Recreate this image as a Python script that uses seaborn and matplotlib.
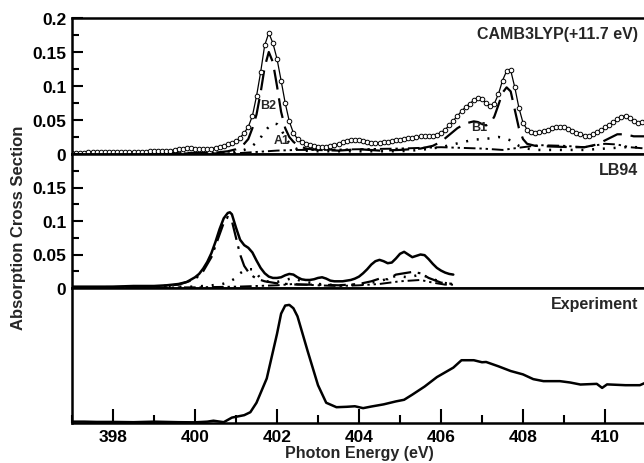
import numpy as np
import pandas as pd
import matplotlib
matplotlib.use("Agg")
import matplotlib.pyplot as plt
import seaborn as sns
from matplotlib.ticker import MultipleLocator, FixedLocator

# ---------------- data ----------------
# CAMB3LYP total (0.1 eV grid 397.0 ... 411.0)
camb_energy = [round(397.0 + 0.1 * i, 1) for i in range(141)]
camb_total = [
    0.002, 0.002, 0.002, 0.002, 0.003, 0.003, 0.003, 0.003, 0.003, 0.003,   # 397
    0.003, 0.003, 0.003, 0.003, 0.003, 0.003, 0.003, 0.003, 0.003, 0.004,   # 398
    0.004, 0.004, 0.004, 0.005, 0.005, 0.006, 0.007, 0.008, 0.009, 0.009,   # 399
    0.008, 0.007, 0.007, 0.007, 0.008, 0.009, 0.010, 0.012, 0.014, 0.016,   # 400
    0.019, 0.024, 0.031, 0.040, 0.056, 0.085, 0.120, 0.160, 0.178, 0.163,   # 401
    0.140, 0.108, 0.075, 0.048, 0.031, 0.022, 0.018, 0.015, 0.013, 0.012,   # 402
    0.011, 0.011, 0.011, 0.012, 0.013, 0.015, 0.017, 0.019, 0.020, 0.021,   # 403
    0.021, 0.019, 0.017, 0.016, 0.016, 0.016, 0.017, 0.018, 0.019, 0.020,   # 404
    0.021, 0.022, 0.023, 0.024, 0.025, 0.026, 0.026, 0.026, 0.027, 0.028,   # 405
    0.031, 0.036, 0.042, 0.049, 0.056, 0.063, 0.069, 0.074, 0.079, 0.083,   # 406
    0.081, 0.075, 0.071, 0.074, 0.088, 0.108, 0.122, 0.123, 0.098, 0.068,   # 407
    0.046, 0.036, 0.032, 0.031, 0.032, 0.034, 0.036, 0.038, 0.039, 0.040,   # 408
    0.039, 0.037, 0.034, 0.031, 0.029, 0.027, 0.027, 0.029, 0.032, 0.035,   # 409
    0.039, 0.043, 0.047, 0.051, 0.055, 0.056, 0.053, 0.048, 0.046, 0.047,   # 410
    0.049,                                                                   # 411
]

# CAMB3LYP components
b2_energy = [397.0, 399.0, 400.5, 400.8, 401.0, 401.1, 401.2, 401.3, 401.4, 401.5, 401.6,
             401.7, 401.8, 401.9, 402.0, 402.1, 402.2, 402.3, 402.4, 402.5, 402.7, 403.0,
             403.5, 404.0, 404.5, 405.0, 405.5, 405.8, 406.0, 406.2, 406.4, 406.6, 406.8,
             406.9, 407.0, 407.1, 407.2, 407.3, 407.4, 407.5, 407.6, 407.7, 407.8, 407.9,
             408.0, 408.1, 408.3, 408.7, 409.2, 409.5, 409.8, 410.0, 410.2, 410.3, 410.5,
             410.7, 411.0]
b2_values = [0.001, 0.001, 0.002, 0.004, 0.007, 0.010, 0.015, 0.022, 0.038, 0.058, 0.090,
             0.128, 0.150, 0.135, 0.100, 0.062, 0.038, 0.025, 0.018, 0.013, 0.008, 0.006,
             0.005, 0.007, 0.005, 0.006, 0.008, 0.012, 0.018, 0.028, 0.038, 0.045, 0.048,
             0.047, 0.044, 0.042, 0.045, 0.055, 0.072, 0.090, 0.098, 0.092, 0.065, 0.038,
             0.022, 0.015, 0.012, 0.011, 0.010, 0.010, 0.014, 0.020, 0.026, 0.029, 0.029,
             0.026, 0.026]

a1_energy = [397.0, 400.0, 400.8, 401.0, 401.2, 401.4, 401.5, 401.6, 401.7, 401.8, 401.9,
             402.0, 402.1, 402.2, 402.3, 402.4, 402.5, 402.6, 403.0, 404.0, 405.0, 405.5,
             406.0, 406.5, 406.8, 407.0, 407.2, 407.4, 407.5, 407.7, 407.9, 408.1, 408.3,
             409.0, 409.5, 410.0, 410.5, 411.0]
a1_values = [0.001, 0.001, 0.002, 0.003, 0.006, 0.012, 0.017, 0.024, 0.033, 0.040, 0.045,
             0.044, 0.036, 0.025, 0.016, 0.010, 0.007, 0.005, 0.004, 0.004, 0.004, 0.006,
             0.010, 0.017, 0.021, 0.022, 0.023, 0.025, 0.024, 0.020, 0.012, 0.008, 0.006,
             0.006, 0.006, 0.008, 0.010, 0.010]

other_energy = [397.0, 401.0, 401.5, 402.0, 402.5, 403.0, 404.0, 405.0, 405.5, 406.0,
                406.5, 407.0, 407.5, 408.0, 408.4, 409.0, 409.5, 410.0, 410.3, 410.6, 411.0]
other_values = [0.001, 0.001, 0.003, 0.005, 0.006, 0.006, 0.007, 0.008, 0.009, 0.010,
                0.009, 0.008, 0.006, 0.010, 0.013, 0.012, 0.010, 0.015, 0.014, 0.010, 0.008]

# LB94
lb_energy = [397.0, 397.5, 398.0, 398.5, 399.0, 399.3, 399.6, 399.8, 400.0, 400.1, 400.2,
             400.3, 400.4, 400.5, 400.6, 400.7, 400.8, 400.85, 400.9, 401.0, 401.1, 401.2,
             401.3, 401.4, 401.5, 401.6, 401.7, 401.8, 401.9, 402.0, 402.1, 402.2, 402.3,
             402.4, 402.5, 402.6, 402.7, 402.8, 402.9, 403.0, 403.1, 403.2, 403.3, 403.4,
             403.5, 403.6, 403.7, 403.8, 403.9, 404.0, 404.1, 404.2, 404.3, 404.4, 404.5,
             404.6, 404.7, 404.8, 404.9, 405.0, 405.1, 405.2, 405.3, 405.4, 405.5, 405.6,
             405.7, 405.8, 405.9, 406.0, 406.1, 406.2, 406.3]
lb_total = [0.002, 0.002, 0.002, 0.003, 0.003, 0.004, 0.006, 0.009, 0.016, 0.021, 0.029,
            0.039, 0.052, 0.069, 0.088, 0.104, 0.112, 0.113, 0.110, 0.090, 0.072, 0.064,
            0.060, 0.053, 0.041, 0.030, 0.022, 0.017, 0.015, 0.015, 0.016, 0.019, 0.021,
            0.020, 0.016, 0.013, 0.012, 0.012, 0.013, 0.015, 0.016, 0.014, 0.011, 0.010,
            0.010, 0.010, 0.011, 0.012, 0.014, 0.017, 0.022, 0.028, 0.035, 0.040, 0.042,
            0.040, 0.037, 0.038, 0.044, 0.051, 0.054, 0.050, 0.046, 0.048, 0.050, 0.049,
            0.043, 0.036, 0.030, 0.026, 0.023, 0.021, 0.020]

lb_main_energy = [397.0, 399.0, 399.6, 400.0, 400.2, 400.4, 400.6, 400.7, 400.8, 400.9, 401.0,
                  401.1, 401.2, 401.3, 401.4, 401.5, 401.7, 402.0, 402.5, 403.0, 403.5, 404.0,
                  404.3, 404.5, 404.7, 404.9, 405.1, 405.3, 405.5, 405.7, 406.0, 406.3]
lb_main_values = [0.001, 0.002, 0.005, 0.013, 0.025, 0.046, 0.080, 0.097, 0.106, 0.100, 0.075,
                  0.050, 0.033, 0.024, 0.018, 0.014, 0.010, 0.007, 0.005, 0.005, 0.004, 0.006,
                  0.010, 0.014, 0.013, 0.020, 0.022, 0.024, 0.022, 0.015, 0.008, 0.006]

lb_dot_energy = [397.0, 400.0, 400.6, 400.8, 401.0, 401.1, 401.2, 401.3, 401.4, 401.5, 401.6,
                 401.8, 402.0, 402.2, 402.4, 402.6, 403.0, 403.5, 404.0, 404.5, 404.9, 405.2,
                 405.5, 405.8, 406.0, 406.3]
lb_dot_values = [0.0005, 0.002, 0.005, 0.008, 0.015, 0.022, 0.026, 0.028, 0.028, 0.022, 0.014,
                 0.009, 0.009, 0.012, 0.015, 0.010, 0.006, 0.004, 0.005, 0.010, 0.018, 0.016,
                 0.020, 0.014, 0.008, 0.006]

lb_other_energy = [397.0, 400.0, 401.0, 402.0, 402.4, 403.0, 403.5, 404.0, 404.5, 405.0,
                   405.5, 405.8, 406.1, 406.3]
lb_other_values = [0.0005, 0.001, 0.002, 0.004, 0.006, 0.004, 0.003, 0.004, 0.006, 0.010,
                   0.012, 0.008, 0.005, 0.005]

# Experiment (arbitrary units)
exp_energy = [397.0, 397.3, 397.6, 398.0, 398.5, 399.0, 399.3, 399.6, 400.0, 400.3, 400.45,
              400.7, 400.9, 401.2, 401.35, 401.5, 401.75, 402.0, 402.1, 402.2, 402.3, 402.4,
              402.5, 402.75, 403.0, 403.2, 403.45, 403.7, 403.9, 404.1, 404.3, 404.6, 404.9,
              405.1, 405.3, 405.6, 405.9, 406.3, 406.5, 406.8, 407.0, 407.1, 407.4, 407.7,
              408.0, 408.25, 408.5, 408.9, 409.15, 409.4, 409.8, 409.93, 410.05, 410.5,
              410.85, 411.0]
exp_values = [0.010, 0.010, 0.008, 0.008, 0.006, 0.010, 0.008, 0.006, 0.005, 0.010, 0.017,
              0.006, 0.040, 0.058, 0.080, 0.150, 0.330, 0.660, 0.810, 0.870, 0.875, 0.850,
              0.790, 0.530, 0.280, 0.150, 0.117, 0.120, 0.124, 0.110, 0.122, 0.138, 0.160,
              0.172, 0.210, 0.270, 0.340, 0.410, 0.465, 0.465, 0.450, 0.452, 0.420, 0.385,
              0.360, 0.325, 0.310, 0.310, 0.300, 0.285, 0.290, 0.260, 0.286, 0.280,
              0.280, 0.300]

panel_titles = ["CAMB3LYP(+11.7 eV)", "LB94", "Experiment"]
peak_labels = ["B2", "A1", "B1"]
peak_label_pos = [(401.78, 0.072), (402.12, 0.021), (406.93, 0.040)]
y_ticks_top = [0, 0.05, 0.1, 0.15, 0.2]
y_ticks_mid = [0, 0.05, 0.1, 0.15]
x_ticks = [398, 400, 402, 404, 406, 408, 410]

# ---------------- style ----------------
sns.set_style("ticks")
plt.rcParams["font.family"] = ["Liberation Sans", "DejaVu Sans"]
plt.rcParams["font.weight"] = "bold"
plt.rcParams["axes.labelweight"] = "bold"

W, H = 644, 464
fig = plt.figure(figsize=(W / 100, H / 100), dpi=100)

left_px, right_px = 72, 646
def ax_at(top_px, bot_px):
    return fig.add_axes([left_px / W, 1 - bot_px / H, (right_px - left_px) / W,
                         (bot_px - top_px) / H])

ax1 = ax_at(19, 155)
ax2 = ax_at(155, 289)
ax3 = ax_at(289, 424)

LS_DASH = (0, (9, 4))
LS_DOT = (0, (0.8, 3.5))
LS_DDD = (0, (6, 2, 1.2, 2, 1.2, 2))
LS_DASHDOT = (0, (8, 3, 1.2, 3))

def line(ax, x, y, ls="-", lw=1.5, **kw):
    sns.lineplot(x=x, y=y, ax=ax, color="black", linestyle=ls, linewidth=lw,
                 estimator=None, sort=False, **kw)

# top panel
line(ax1, other_energy, other_values, LS_DDD, 1.4)
line(ax1, a1_energy, a1_values, LS_DOT, 1.8)
line(ax1, b2_energy, b2_values, LS_DASH, 1.6)
line(ax1, camb_energy, camb_total, "-", 0.9, marker="o", markersize=3.3,
     markerfacecolor="white", markeredgecolor="black", markeredgewidth=0.7)

# middle panel
line(ax2, lb_other_energy, lb_other_values, LS_DDD, 1.4)
line(ax2, lb_dot_energy, lb_dot_values, LS_DOT, 1.8)
line(ax2, lb_main_energy, lb_main_values, LS_DASHDOT, 1.6)
line(ax2, lb_energy, lb_total, "-", 1.8)

# bottom panel
line(ax3, exp_energy, exp_values, "-", 1.8)

for ax in (ax1, ax2, ax3):
    ax.set_xlim(397, 411)
    ax.set_xlabel("")
    ax.set_ylabel("")
    for s in ax.spines.values():
        s.set_linewidth(1.8)
        s.set_color("black")
    ax.spines["right"].set_visible(False)
    ax.tick_params(which="both", direction="in", colors="black", labelsize=12.5, width=1.5)

for ax in (ax1, ax2):
    ax.set_ylim(0, 0.2)
    ax.tick_params(axis="x", which="both", bottom=False, labelbottom=False)
    ax.yaxis.set_minor_locator(MultipleLocator(0.025))
    ax.tick_params(axis="y", which="major", length=8, pad=4)
    ax.tick_params(axis="y", which="minor", length=5)

ax1.set_yticks(y_ticks_top)
ax1.set_yticklabels([f"{v:g}" for v in y_ticks_top], fontweight="bold")
ax2.yaxis.set_major_locator(FixedLocator(y_ticks_mid + [0.2]))
ax2.set_yticklabels([f"{v:g}" for v in y_ticks_mid] + [""], fontweight="bold")

ax3.set_ylim(0, 1)
ax3.set_yticks([])
ax3.set_xticks(x_ticks)
ax3.set_xticklabels([str(v) for v in x_ticks], fontweight="bold")
ax3.xaxis.set_minor_locator(MultipleLocator(1))
ax3.tick_params(axis="x", which="major", length=10, pad=4)
ax3.tick_params(axis="x", which="minor", length=6)
ax3.set_xlabel("Photon Energy (eV)", fontsize=11.5, fontweight="bold", labelpad=1)

for ax, title in zip((ax1, ax2, ax3), panel_titles):
    ax.annotate(title, xy=(1, 1), xycoords="axes fraction",
                xytext=(-6 - (right_px - 644), -8), textcoords="offset pixels",
                ha="right", va="top", fontsize=11.5, fontweight="bold")

for lab, (ex, ey) in zip(peak_labels, peak_label_pos):
    ax1.text(ex, ey, lab, ha="center", va="center", fontsize=9, fontweight="bold")

fig.text(19 / W, 1 - 228 / H, "Absorption Cross Section", rotation=90,
         ha="center", va="center", fontsize=12, fontweight="bold")

fig.savefig("out.png", dpi=100)
